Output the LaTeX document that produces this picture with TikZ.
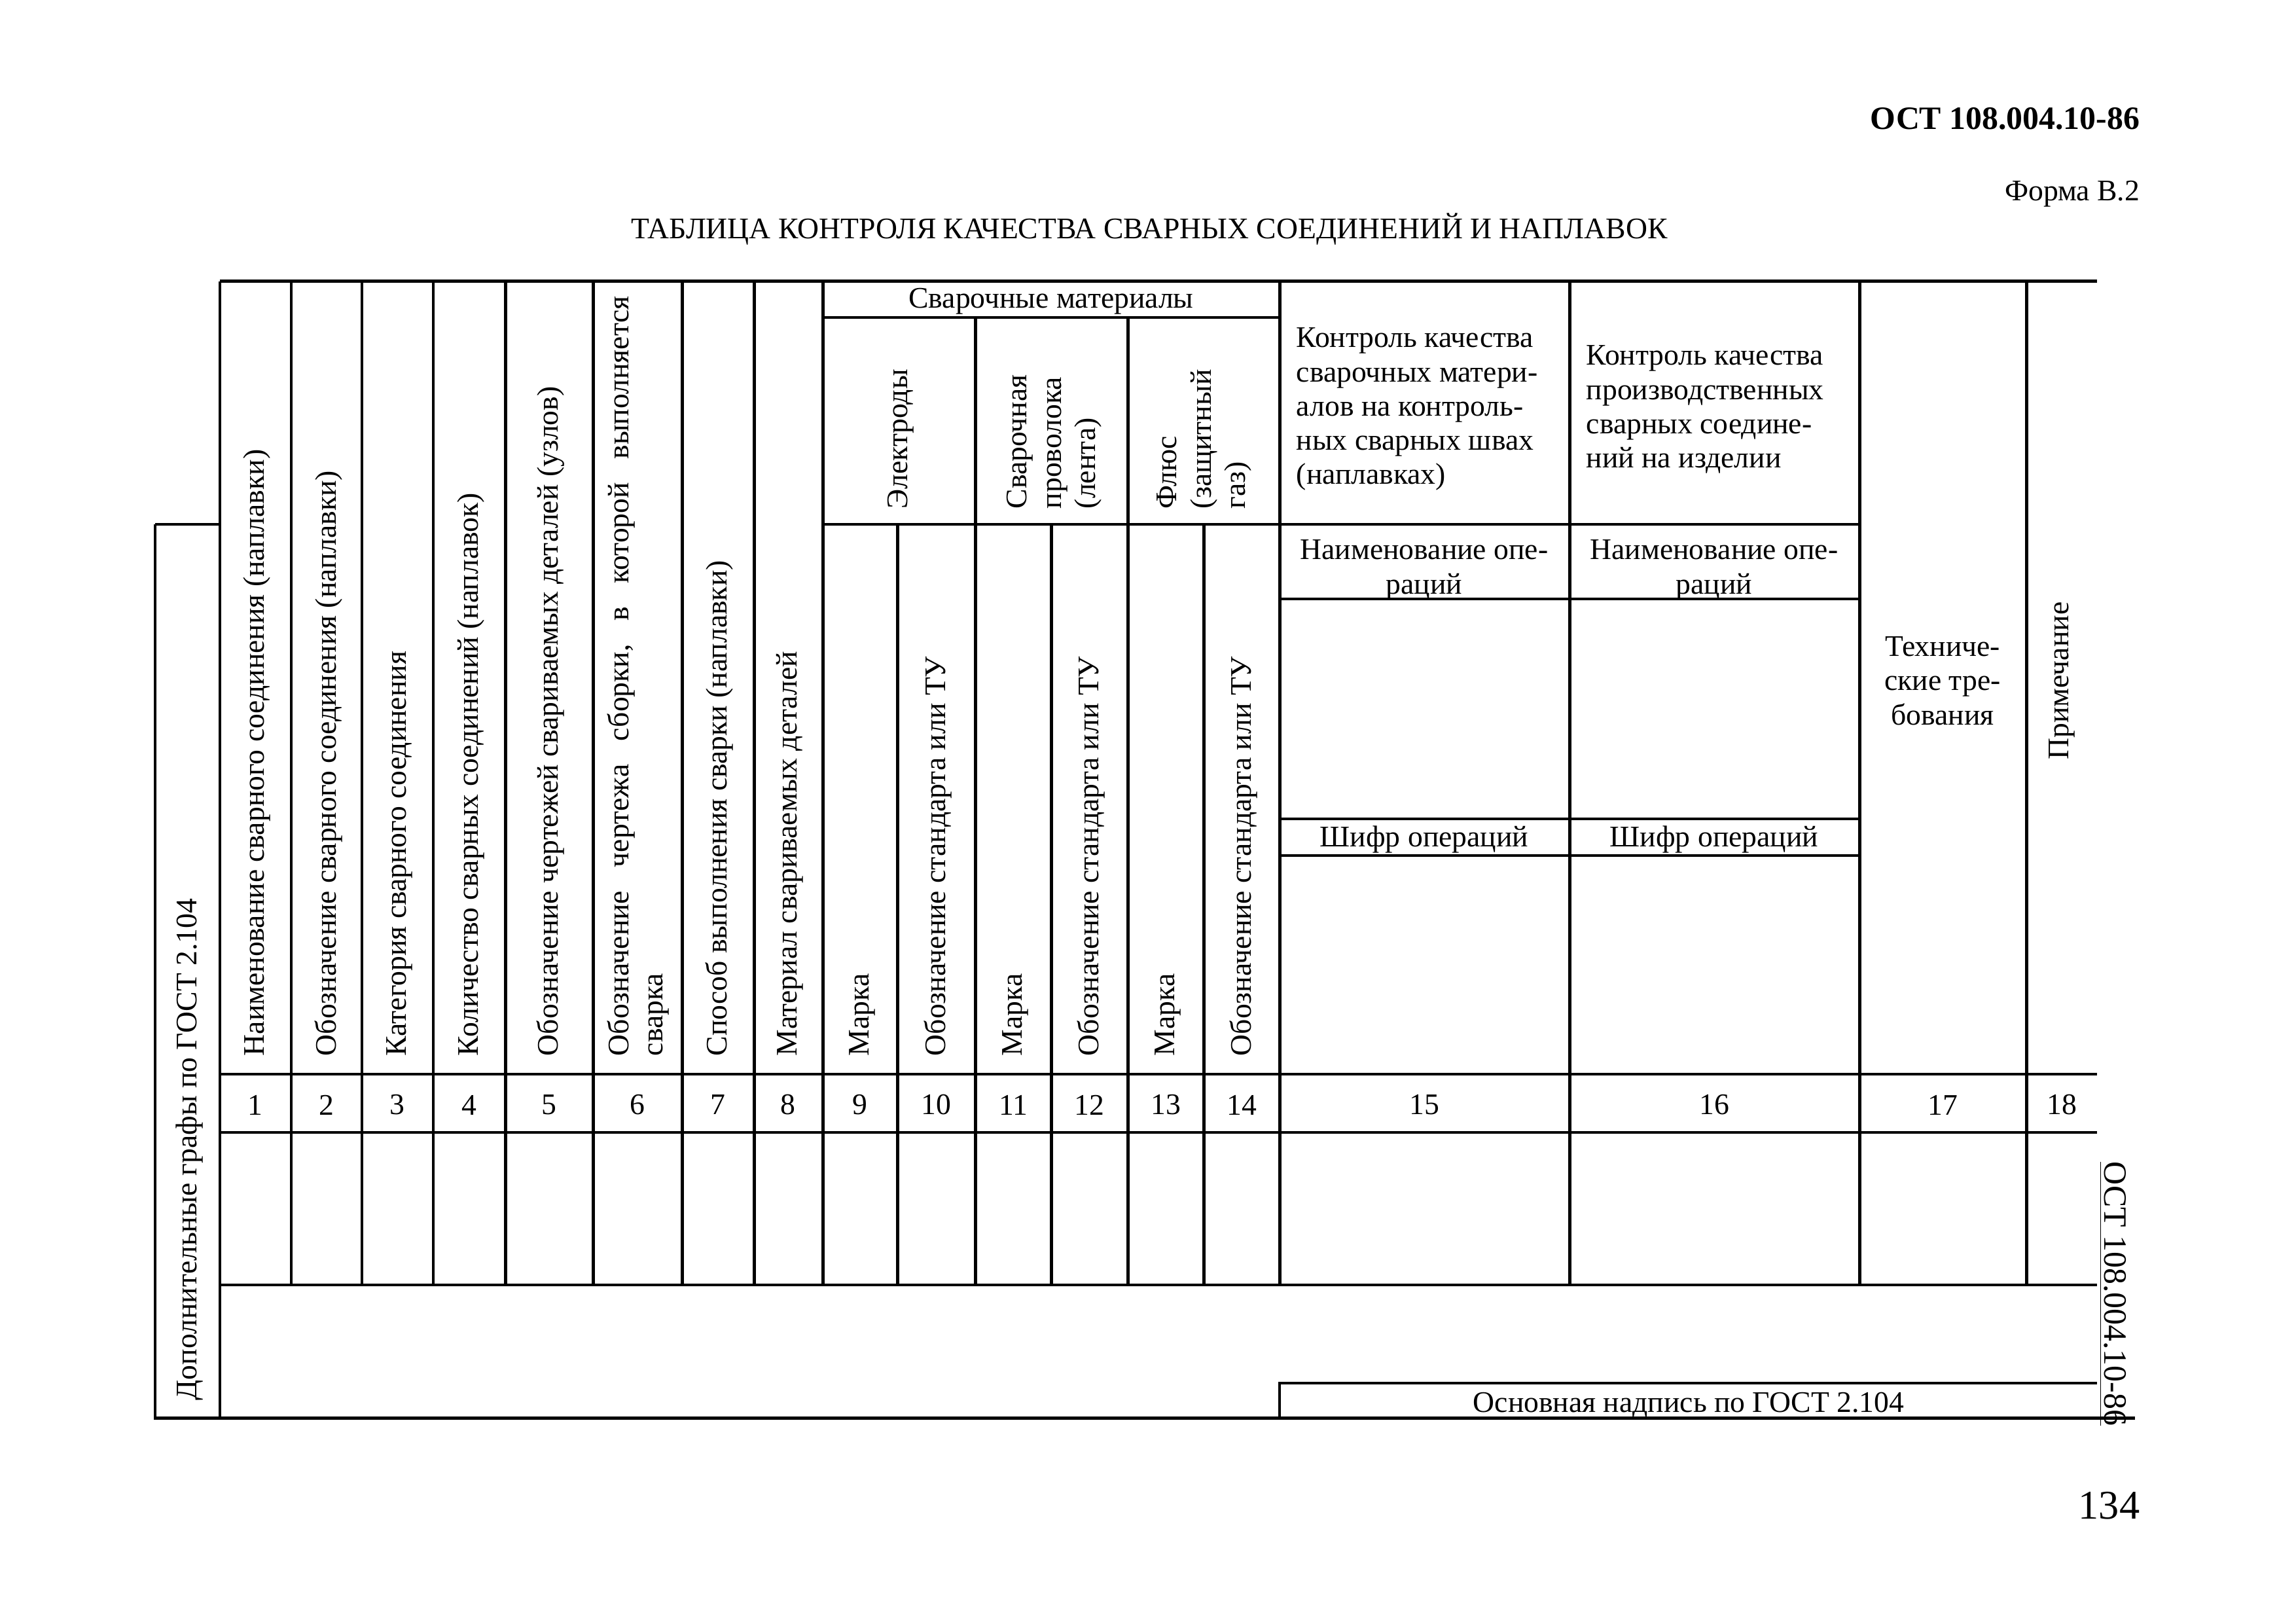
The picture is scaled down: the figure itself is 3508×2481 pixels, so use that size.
\documentclass[tikz,border=0pt]{standalone}
\usepackage{fontspec}
\setmainfont{Liberation Serif}
\usetikzlibrary{positioning}

\begin{document}
\begin{tikzpicture}[x=0.084667mm, y=-0.084667mm,
    frame/.style={line width=1.2pt},
    rule/.style={line width=0.9pt},
    txt/.style={inner sep=0pt, font=\fontsize{11}{12.6}\selectfont},
    vtxt/.style={txt, rotate=90, anchor=west},
    numtxt/.style={txt, anchor=center}]

\useasboundingbox (0,0) rectangle (3508,2481);

% Page header
\node[txt, anchor=base east, font=\fontsize{12}{14}\selectfont\bfseries] (doc) at (3270,198) {ОСТ 108.004.10-86};
\node[txt, anchor=base east] (form) at (3270,307) {Форма В.2};
\node[txt, anchor=base] (title) at (1756,365) {ТАБЛИЦА КОНТРОЛЯ КАЧЕСТВА СВАРНЫХ СОЕДИНЕНИЙ И НАПЛАВОК};
\node[txt, anchor=base east, font=\fontsize{15}{17}\selectfont] (page) at (3270,2320) {134};

% Frame
\draw[frame] (237,801) -- (336,801);
\draw[frame] (237,801) -- (237,2166) -- (3262,2166);
\draw[frame] (336,430) -- (336,2166);
\draw[frame] (336,430) -- (3204,430);

% Column lines
\foreach \x in {445,553,662,772,906,1042,1152,1257,1955,2398,2841,3096}
  \draw[frame] (\x,430) -- (\x,1963);
\foreach \x in {1490,1723}
  \draw[frame] (\x,485) -- (\x,1963);
\foreach \x in {1371,1606,1839}
  \draw[frame] (\x,801) -- (\x,1963);

% Row lines
\draw[rule] (1257,485) -- (1955,485);
\draw[rule] (1257,801) -- (2841,801);
\foreach \y in {915,1251,1307}
  \draw[rule] (1955,\y) -- (2841,\y);
\foreach \y in {1641,1730,1963}
  \draw[frame] (336,\y) -- (3204,\y);
\draw[rule] (1955,2166) -- (1955,2113) -- (3204,2113);

% Column heads
\node[vtxt] (h1) at (393,1614) {Наименование сварного соединения (наплавки)};
\node[vtxt] (h2) at (502,1614) {Обозначение сварного соединения (наплавки)};
\node[vtxt] (h3) at (610,1614) {Категория сварного соединения};
\node[vtxt] (h4) at (720,1614) {Количество сварных соединений (наплавок)};
\node[vtxt] (h5) at (841,1614) {Обозначение чертежей свариваемых деталей (узлов)};
\node[vtxt] (h6) at (975,1614) {\parbox{9.83cm}{Обозначение\hfill чертежа\hfill сборки,\hfill в\hfill которой\hfill выполняется\\сварка}};
\node[vtxt] (h7) at (1099,1614) {Способ выполнения сварки (наплавки)};
\node[vtxt] (h8) at (1207,1614) {Материал свариваемых деталей};

% Welding materials
\node[txt, anchor=center] (mat) at (1606,460) {Сварочные материалы};
\node[vtxt] (g1) at (1376,778) {Электроды};
\node[vtxt, align=left] (g2) at (1611,778) {Сварочная\\проволока\\(лента)};
\node[vtxt, align=left] (g3) at (1840,778) {Флюс\\(защитный\\газ)};
\foreach \x/\i in {1317/9,1551/11,1784/13}
  \node[vtxt] (m\i) at (\x,1614) {Марка};
\foreach \x/\i in {1433/10,1667/12,1900/14}
  \node[vtxt] (s\i) at (\x,1614) {Обозначение стандарта или ТУ};

% Quality control
\node[txt, anchor=north west, align=left] (k15) at (1980,500) {Контроль качества\\сварочных матери-\\алов на контроль-\\ных сварных швах\\(наплавках)};
\node[txt, anchor=north west, align=left] (k16) at (2423,527) {Контроль качества\\производственных\\сварных соедине-\\ний на изделии};
\node[txt, anchor=north, align=center] (o15) at (2176,824) {Наименование опе-\\раций};
\node[txt, anchor=north, align=center] (o16) at (2619,824) {Наименование опе-\\раций};
\node[txt, anchor=base] (c15) at (2176,1294) {Шифр операций};
\node[txt, anchor=base] (c16) at (2619,1294) {Шифр операций};
\node[txt, anchor=center, align=center] (tech) at (2968,1040) {Техниче-\\ские тре-\\бования};
\node[txt, rotate=90, anchor=center] (note) at (3150,1040) {Примечание};

% Column numbers
\foreach \n/\x in {1/390,2/499,3/607,4/717,5/839,6/974,7/1097,8/1204,9/1314,10/1430,11/1548,12/1664,13/1781,14/1897,15/2176,16/2619,17/2968,18/3150}
  \node[numtxt] (n\n) at (\x,1688) {\n};

% Margin texts
\node[vtxt] (extra) at (290,2140) {Дополнительные графы по ГОСТ 2.104};
\node[txt, rotate=-90, anchor=west, font=\fontsize{12}{14}\selectfont] (side) at (3228,1774) {\underline{ОСТ 108.004.10-86}};
\node[txt, anchor=base] (stamp) at (2580,2157) {Основная надпись по ГОСТ 2.104};

\end{tikzpicture}
\end{document}
